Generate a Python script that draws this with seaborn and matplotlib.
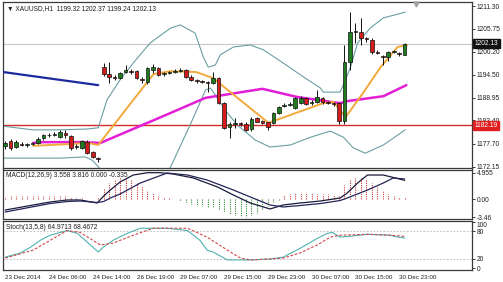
import numpy as np
import matplotlib
matplotlib.use("Agg")
import matplotlib.pyplot as plt
import seaborn as sns

# ---------------- data ----------------
symbol_title = "\u25bc XAUUSD,H1  1199.32 1202.37 1199.24 1202.13"
macd_title = "MACD(12,26,9) 3.558 3.816 0.000 -0.335"
stoch_title = "Stoch(13,5,8) 64.9713 68.4672"

tick_bars = [0, 8, 16, 24, 32, 40, 48, 56, 64, 72]
tick_labels = ["23 Dec 2014", "24 Dec 06:00", "24 Dec 14:00", "26 Dec 19:00",
               "29 Dec 07:00", "29 Dec 15:00", "29 Dec 23:00", "30 Dec 07:00",
               "30 Dec 15:00", "30 Dec 23:00"]

price_ticks = [1211.30, 1205.75, 1200.20, 1194.50, 1188.95, 1183.40, 1177.70, 1172.15]
macd_ticks = [4.955, 0.00, -3.46]
macd_tick_labels = ["4.955", "0.00", "-3.46"]
stoch_ticks = [100, 80, 20, 0]

last_price = 1202.13
support_level = 1182.19

open_ = [1177.2, 1178.4, 1176.9, 1177.7, 1177.5, 1177.7, 1177.9, 1179.1, 1179.8, 1179.9,
         1179.3, 1180.3, 1179.6, 1176.9, 1176.7, 1178.1, 1175.6, 1174.2, 1196.4, 1194.6,
         1193.9, 1193.7, 1195.2, 1195.4, 1195.4, 1193.6, 1192.8, 1195.8, 1196.2, 1194.6,
         1194.9, 1195.2, 1195.5, 1195.6, 1194.1, 1193.2, 1193.0, 1192.8, 1192.5, 1193.7,
         1187.6, 1181.7, 1182.5, 1182.7, 1182.6, 1181.2, 1184.0, 1183.3, 1182.9, 1182.8,
         1185.2, 1186.9, 1187.2, 1186.4, 1187.6, 1188.9, 1187.7, 1187.9, 1188.9, 1187.9,
         1187.7, 1187.6, 1183.2, 1197.6, 1205.0, 1205.0, 1203.5, 1203.0, 1200.1, 1199.0,
         1198.8, 1200.1, 1199.8, 1199.32]
high = [1178.3, 1178.8, 1178.5, 1178.1, 1177.9, 1178.2, 1179.3, 1180.1, 1180.3, 1180.5,
        1181.0, 1181.1, 1179.9, 1177.6, 1178.7, 1178.5, 1175.9, 1174.5, 1197.3, 1197.6,
        1194.4, 1195.3, 1196.9, 1196.0, 1195.7, 1193.9, 1196.5, 1197.2, 1196.5, 1195.2,
        1195.5, 1195.9, 1196.3, 1195.9, 1194.4, 1193.4, 1193.3, 1193.0, 1195.2, 1194.0,
        1187.8, 1183.0, 1184.0, 1183.0, 1183.0, 1184.2, 1184.3, 1183.4, 1183.1, 1185.5,
        1187.0, 1187.6, 1187.8, 1189.2, 1189.3, 1189.2, 1188.3, 1190.8, 1189.2, 1188.2,
        1188.0, 1187.9, 1201.8, 1209.8, 1207.2, 1208.4, 1203.8, 1203.4, 1200.5, 1199.3,
        1200.4, 1200.6, 1200.0, 1202.37]
low = [1176.5, 1176.3, 1176.6, 1177.1, 1177.0, 1177.3, 1177.6, 1178.7, 1179.4, 1179.5,
       1179.0, 1179.1, 1176.3, 1176.5, 1176.4, 1175.2, 1174.2, 1173.3, 1194.3, 1192.5,
       1193.2, 1193.4, 1195.0, 1194.8, 1193.5, 1192.5, 1192.4, 1195.0, 1194.3, 1194.3,
       1194.7, 1195.0, 1195.3, 1193.8, 1193.0, 1192.6, 1192.5, 1190.4, 1192.3, 1187.3,
       1181.2, 1179.1, 1181.5, 1182.0, 1180.7, 1180.9, 1182.9, 1182.5, 1181.0, 1182.5,
       1184.9, 1186.6, 1186.9, 1186.1, 1187.4, 1187.1, 1187.2, 1187.6, 1187.5, 1187.3,
       1187.0, 1182.5, 1182.6, 1195.7, 1202.3, 1201.8, 1202.6, 1199.6, 1199.5, 1196.9,
       1197.9, 1199.8, 1199.2, 1199.24]
close = [1178.0, 1176.7, 1178.1, 1177.5, 1177.6, 1177.9, 1178.9, 1179.8, 1179.9, 1180.1,
         1180.6, 1179.9, 1176.7, 1177.1, 1178.4, 1175.4, 1174.5, 1174.0, 1194.6, 1194.0,
         1193.7, 1195.0, 1195.6, 1195.1, 1193.7, 1193.3, 1196.2, 1196.5, 1194.5, 1194.9,
         1195.2, 1195.4, 1195.8, 1194.0, 1193.3, 1193.0, 1192.8, 1192.5, 1193.7, 1187.6,
         1181.5, 1182.6, 1182.8, 1182.5, 1181.0, 1183.8, 1183.1, 1182.8, 1181.7, 1185.2,
         1186.7, 1187.2, 1187.4, 1188.9, 1188.9, 1187.4, 1187.9, 1189.1, 1187.9, 1187.7,
         1187.5, 1183.2, 1197.6, 1205.0, 1205.3, 1203.5, 1203.3, 1200.1, 1199.9, 1198.8,
         1200.1, 1200.2, 1199.6, 1202.13]

# Bollinger bands (bar position, price)
bb_upper_x = [-0.4, 5, 10, 15, 17, 18.6, 21, 23.4, 26.5, 30.2, 32, 34.7, 36.2, 37.1,
              38.4, 39.3, 41.7, 44.8, 47.2, 50.8, 54.5, 57.6, 58.1, 61.2, 62.2, 63.1,
              64.4, 66.7, 69.1, 73.1]
bb_upper_y = [1182.0, 1181.1, 1181.1, 1181.3, 1181.6, 1188.4, 1193.3, 1197.4, 1202.3,
              1205.9, 1206.7, 1204.7, 1198.9, 1196.4, 1196.9, 1199.4, 1201.3, 1201.8,
              1200.6, 1197.4, 1194.0, 1191.3, 1190.3, 1190.3, 1193.3, 1196.4, 1202.3,
              1205.9, 1208.4, 1209.8]
bb_lower1_x = [-0.4, 5.1, 10.1, 14.6, 15.9, 17.4]
bb_lower1_y = [1174.2, 1174.2, 1174.2, 1174.5, 1173.7, 1171.5]
bb_lower2_x = [29.5, 30.2, 33.8, 36.6, 37.5, 38.4, 40.2, 42.4, 45.7, 48.4, 52.1, 55.8,
               59.4, 61.8, 63.6, 65.8, 69.1, 73.1]
bb_lower2_y = [1170.5, 1172.0, 1182.3, 1190.8, 1191.3, 1189.6, 1185.9, 1182.3, 1178.6,
               1176.9, 1177.4, 1179.3, 1180.8, 1179.3, 1176.7, 1175.4, 1177.4, 1181.1]

# moving averages
ma_fast_x = [5.1, 11.3, 15.2, 17.0, 27.1, 30.2, 34.9, 38.0, 48.1, 58.1, 60.0, 62.2,
             65.4, 68.6, 71.7, 73.5]
ma_fast_y = [1177.2, 1177.6, 1177.9, 1177.4, 1194.7, 1195.4, 1195.2, 1193.7, 1182.8,
             1187.6, 1187.9, 1184.2, 1190.1, 1196.4, 1201.3, 1201.8]
ma_slow_x = [5.1, 6.9, 14.3, 17.4, 30.2, 36.6, 47.0, 53.4, 61.2, 62.5, 69.1, 73.3]
ma_slow_y = [1177.9, 1178.1, 1178.1, 1177.9, 1185.2, 1188.9, 1191.1, 1189.1, 1187.6,
             1188.1, 1189.3, 1192.0]
trend_x = [-0.4, 17.0]
trend_y = [1195.2, 1192.0]

# MACD
macd_x = [0, 8.2, 11.3, 13.7, 16.8, 18.0, 19.2, 21.0, 23.4, 26.0, 28.3, 30.7, 34.4,
          38.8, 41.7, 44.8, 48.4, 50.8, 53.9, 57.6, 61.2, 62.5, 64.4, 66.2, 69.1, 73]
macd_y = [-2.10, -0.57, -0.19, -0.19, -0.76, 0.57, 1.71, 3.24, 4.57, 5.01, 5.01, 4.76,
          4.0, 2.29, 0.76, -0.76, -1.90, -1.14, -0.76, -0.38, 0.19, 1.14, 3.05, 4.57,
          4.57, 3.558]
signal_x = [0, 8.2, 11.3, 13.7, 16.8, 18.0, 19.2, 21.0, 24.7, 29.6, 33.3, 36.9, 41.7,
            44.8, 48.4, 50.8, 53.9, 57.6, 61.2, 62.5, 66.2, 69.1, 70.9, 73]
signal_y = [-2.48, -0.86, -0.48, -0.38, -0.67, -0.48, 0.19, 0.95, 3.05, 4.95, 4.57,
            3.62, 1.71, 0.38, -1.14, -1.52, -1.24, -0.86, -0.29, 0.19, 1.71, 3.05, 4.0,
            3.816]
macd_hist = [0.3, 0.5, 0.5, 0.6, 0.6, 0.6, 0.6, 0.6, 0.6, 0.6, 0.6, 0.5, 0.3, 0.2, 0.1,
             0.0, 0.0, 0.1, 2.0, 3.0, 3.6, 4.0, 4.0, 3.6, 3.0, 2.4, 1.8, 1.2, 0.6, 0.3,
             0.2, 0.0, -0.3, -0.6, -0.9, -1.1, -1.3, -1.5, -1.8, -2.1, -2.5, -2.8, -3.0,
             -3.2, -3.4, -3.0, -2.7, -2.1, -1.4, -0.6, -0.1, 0.8, 1.0, 1.1, 1.1, 1.1, 1.1,
             1.0, 1.0, 0.9, 0.8, 0.6, 2.7, 3.6, 4.0, 4.2, 3.6, 3.0, 2.2, 1.5, 0.9, 0.5,
             0.3, 0.3]

# Stochastic
stoch_k_x = [0, 2.7, 4.6, 6.4, 8.2, 10.1, 11.3, 13.2, 15.0, 17.0, 17.9, 19.7, 22.3,
             24.7, 27.1, 29.6, 33.3, 35.6, 36.9, 38.0, 40.6, 44.8, 48.4, 50.8, 53.9,
             57.0, 58.9, 59.8, 61.2, 63.1, 66.2, 70.4, 71.7, 73]
stoch_k_y = [24, 32.6, 45, 60, 71, 77, 81, 75, 56, 35, 45, 60, 75, 86, 86, 86, 81, 60,
             39, 35, 18, 18, 20, 24, 43, 64, 75, 77, 67, 69, 73, 71, 67, 64.97]
stoch_d_x = [0, 5.1, 8.2, 11.3, 13.7, 17.4, 19.7, 23.4, 27.1, 33.3, 36.9, 40.6, 43.0,
             44.8, 48.4, 50.8, 53.9, 57.0, 59.4, 61.2, 66.2, 70.4, 73]
stoch_d_y = [22, 39, 60, 81, 77, 50, 54, 71, 86, 86, 67, 39, 22, 18, 20, 22, 33, 50, 67,
             71, 73, 71, 68.47]

# ---------------- style ----------------
sns.set_style("white")
plt.rcParams["font.family"] = ["Liberation Sans", "DejaVu Sans"]
FS = 4.8
FSX = 4.5
FRAME = "#3a3a3a"

fig = plt.figure(figsize=(5.03, 2.82), dpi=100)
W, H = 503.0, 282.0
def axes_px(x0, y0, x1, y1):
    return fig.add_axes([x0 / W, 1 - y1 / H, (x1 - x0) / W, (y1 - y0) / H])

ax = axes_px(3, 2, 472, 168)
axm = axes_px(3, 169.5, 472, 219)
axs = axes_px(3, 221, 472, 270)

XL = (-0.4, 85.3)

def line(a, xs, ys, **kw):
    sns.lineplot(x=xs, y=ys, ax=a, legend=False, estimator=None, sort=False, **kw)

# ---- main panel ----
ax.axhline(last_price, color="#c8c8c8", lw=0.8, zorder=1)
ax.axhline(support_level, color="#d42a2a", lw=1.0, zorder=2)
line(ax, bb_upper_x, bb_upper_y, color="#6a9fa3", linewidth=0.8, zorder=2)
line(ax, bb_lower1_x, bb_lower1_y, color="#6a9fa3", linewidth=0.8, zorder=2)
line(ax, bb_lower2_x, bb_lower2_y, color="#6a9fa3", linewidth=0.8, zorder=2)
line(ax, ma_slow_x, ma_slow_y, color="#e31ed4", linewidth=1.8, zorder=3)
line(ax, ma_fast_x, ma_fast_y, color="#f2a93b", linewidth=1.4, zorder=3)
line(ax, trend_x, trend_y, color="#1d2a9e", linewidth=1.6, zorder=3)

bars = np.arange(len(open_))
o = np.array(open_); c = np.array(close)
bottoms = np.minimum(o, c)
heights = np.maximum(np.abs(c - o), 0.12)
cols = ["#1f7d1f" if cc >= oo else "#d41c1c" for oo, cc in zip(o, c)]
ax.vlines(bars, low, high, color="#111111", lw=0.7, zorder=4)
ax.bar(bars, heights, bottom=bottoms, width=0.66, color=cols, edgecolor="#111111",
       linewidth=0.5, zorder=5)

ax.set_xlim(*XL)
ax.set_ylim(1171.79, 1212.28)
ax.set_yticks(price_ticks)
ax.set_yticklabels([f"{v:.2f}" for v in price_ticks])
ax.text(0.008, 0.963, symbol_title, transform=ax.transAxes, fontsize=FS,
        ha="left", va="center", color="#202020")
ax.plot([75.1], [1211.9], marker="v", color="#a0a0a0", ms=3.5, clip_on=False, zorder=6)

# price boxes on the right axis
trans = ax.get_yaxis_transform()
ax.text(1.006, last_price, f"{last_price:.2f}", transform=trans, fontsize=FS,
        ha="left", va="center", color="white", zorder=10, clip_on=False,
        bbox=dict(boxstyle="square,pad=0.2", fc="#111111", ec="#111111"))
ax.text(1.006, support_level, f"{support_level:.2f}", transform=trans, fontsize=FS,
        ha="left", va="center", color="white", zorder=10, clip_on=False,
        bbox=dict(boxstyle="square,pad=0.2", fc="#e02020", ec="#e02020"))

# ---- MACD panel ----
hcols = ["#c83c3c" if v >= 0 else "#2f8a2f" for v in macd_hist]
axm.vlines(bars, 0, macd_hist, colors=hcols, linestyles=(0, (1, 1)), lw=0.8, zorder=2)
line(axm, macd_x, macd_y, color="#1a1a3a", linewidth=0.9, zorder=3)
line(axm, signal_x, signal_y, color="#25255a", linewidth=0.9, zorder=3)
axm.set_xlim(*XL)
axm.set_ylim(-3.81, 5.62)
axm.set_yticks(macd_ticks)
axm.set_yticklabels(macd_tick_labels)
axm.text(0.006, 0.88, macd_title, transform=axm.transAxes, fontsize=FS,
         ha="left", va="center", color="#202020")

# ---- Stochastic panel ----
axs.axhline(80, color="#b5b5b5", ls=(0, (2, 2)), lw=0.6)
axs.axhline(20, color="#b5b5b5", ls=(0, (2, 2)), lw=0.6)
line(axs, stoch_k_x, stoch_k_y, color="#4fb3b0", linewidth=0.8, zorder=3)
axs.plot(stoch_d_x, stoch_d_y, color="#d04848", linewidth=0.8, ls=(0, (2.5, 1.5)), zorder=3)
axs.set_xlim(*XL)
axs.set_ylim(-3.6, 101.5)
axs.set_yticks(stoch_ticks)
axs.set_yticklabels([str(v) for v in stoch_ticks])
axs.text(0.006, 0.86, stoch_title, transform=axs.transAxes, fontsize=FS,
         ha="left", va="center", color="#202020")
axs.set_xticks(tick_bars)
axs.set_xticklabels(tick_labels)
for lab in axs.get_xticklabels():
    lab.set_ha("left")

for a in (ax, axm, axs):
    a.yaxis.tick_right()
    a.tick_params(axis="y", labelsize=FS, length=2, width=0.6, pad=1.5,
                  colors="#202020", direction="out")
    a.set_xlabel(""); a.set_ylabel("")
    for s in a.spines.values():
        s.set_visible(True)
        s.set_color(FRAME)
        s.set_linewidth(0.9)
    if a is not axs:
        a.set_xticks([])
axs.tick_params(axis="x", labelsize=FSX, length=2, width=0.6, pad=1.5,
                colors="#202020", direction="out")
# stochastic 100 label sits just inside the panel top like the reference
ylabs = axs.get_yticklabels()
ylabs[0].set_va("top")

fig.savefig("out.png", dpi=100, facecolor="white")
